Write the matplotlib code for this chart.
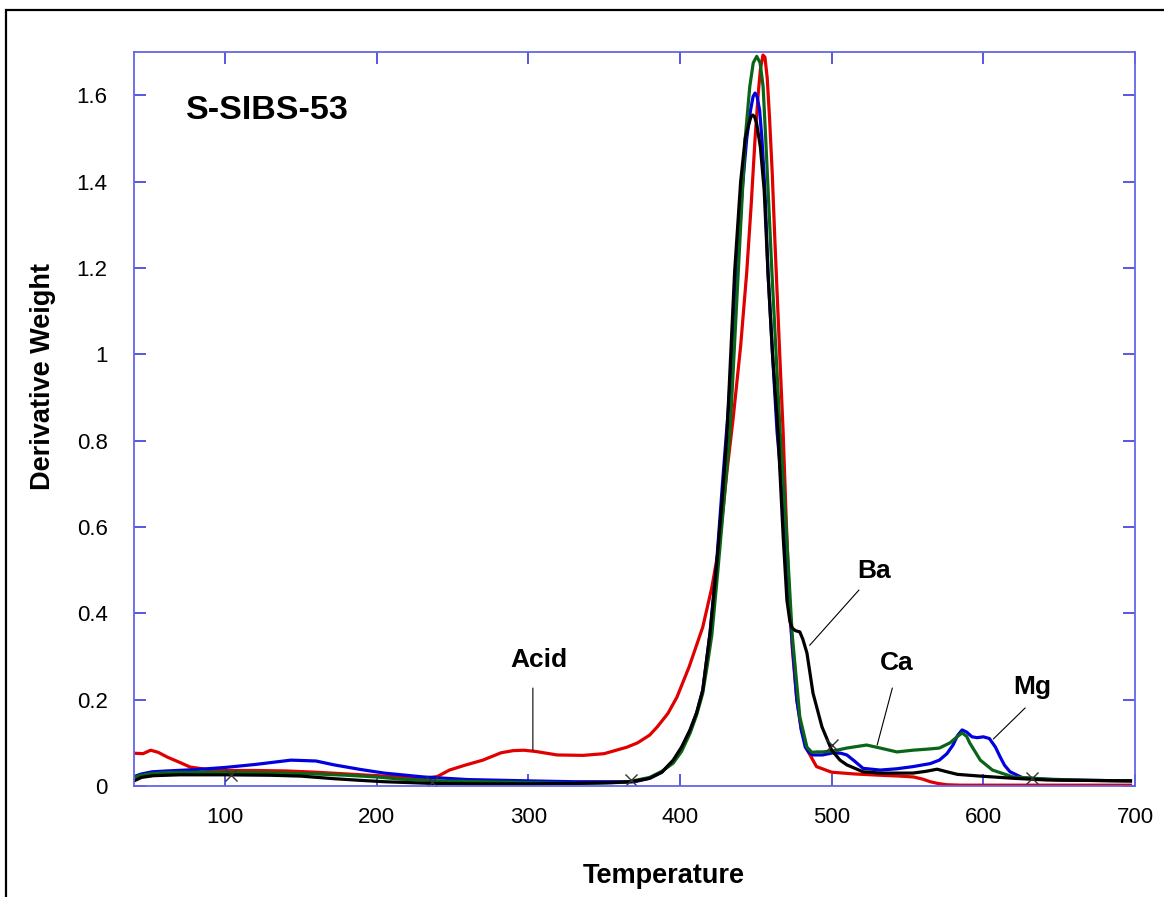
"""
Derivative weight (DTG) curves for S-SIBS-53 and its salts.
"""

import matplotlib
matplotlib.use("Agg")
import matplotlib.pyplot as plt
from matplotlib.patches import Rectangle

plt.rcParams['font.family'] = ['Liberation Sans', 'DejaVu Sans']

# Acid form (red)
acid_t = [40, 46, 51, 56, 62, 70, 77, 85, 91, 100, 120, 140, 160, 180, 200, 220, 232, 240,
          248, 258, 270, 282, 290, 297, 305, 319, 336, 350, 358, 365, 372, 380, 385, 392, 398,
          406, 415, 421, 426, 431, 435, 440, 444, 447, 449.5, 451.5, 453, 454.7, 456, 457.5,
          459, 460.8, 462.6, 466, 468, 470, 472, 474, 477, 480, 484, 490, 500, 515, 532, 545,
          554, 560, 565, 570, 576, 585, 600, 650, 697]
acid_w = [0.076, 0.075, 0.083, 0.078, 0.067, 0.055, 0.044, 0.04, 0.037, 0.036, 0.036, 0.035,
          0.032, 0.028, 0.024, 0.02, 0.018, 0.022, 0.037, 0.048, 0.06, 0.077, 0.082, 0.083, 0.08,
          0.072, 0.071, 0.075, 0.083, 0.09, 0.1, 0.118, 0.137, 0.168, 0.206, 0.276, 0.368, 0.46,
          0.56, 0.73, 0.85, 1.02, 1.19, 1.35, 1.5, 1.6, 1.66, 1.693, 1.688, 1.64, 1.55, 1.42,
          1.26, 0.98, 0.82, 0.62, 0.44, 0.32, 0.2, 0.13, 0.083, 0.045, 0.032, 0.028, 0.025,
          0.023, 0.021, 0.016, 0.01, 0.006, 0.003, 0.002, 0.002, 0.002, 0.002]

# Mg salt (blue)
mg_t = [40, 45, 52, 62, 80, 100, 120, 143.5, 160, 172, 190, 205, 231, 260, 300, 330, 370, 380,
        388, 395.5, 401, 406.6, 411, 415, 419.8, 424, 428, 432, 437, 441, 444, 446.5, 448.2,
        449.5, 450.8, 452.5, 454, 456, 458, 461, 464, 468, 472, 477, 480, 482.6, 485, 487.7, 494,
        501, 506, 510, 515, 520.7, 532, 543, 553.6, 565, 571, 576, 580, 583, 586, 589, 592.5,
        596, 600, 604, 608, 611, 614, 617.6, 626, 650, 697]
mg_w = [0.022, 0.028, 0.033, 0.035, 0.038, 0.043, 0.05, 0.06, 0.058, 0.049, 0.038, 0.03, 0.021,
        0.015, 0.012, 0.01, 0.01, 0.018, 0.032, 0.058, 0.088, 0.128, 0.17, 0.222, 0.354, 0.51,
        0.7, 0.88, 1.15, 1.38, 1.5, 1.565, 1.597, 1.605, 1.597, 1.565, 1.5, 1.38, 1.19, 1.0,
        0.82, 0.66, 0.42, 0.2, 0.13, 0.09, 0.078, 0.072, 0.072, 0.077, 0.076, 0.072, 0.058,
        0.041, 0.037, 0.04, 0.045, 0.052, 0.06, 0.075, 0.095, 0.117, 0.13, 0.125, 0.114, 0.112,
        0.114, 0.11, 0.09, 0.068, 0.048, 0.033, 0.019, 0.014, 0.012]

# Ca salt (green)
ca_t = [40, 45, 52, 62, 80, 100, 130, 160, 180, 200, 216, 240, 270, 300, 330, 350, 365, 380,
        388, 395.5, 401, 406.6, 411, 415, 418, 421, 425, 429, 433, 438.4, 443, 446, 448.3,
        450.6, 452.8, 454.8, 456.5, 460.6, 466, 469, 474, 479, 483.7, 487, 490, 494, 502, 510,
        523, 532, 543, 553.6, 565, 571, 578, 583, 586, 589, 591, 598, 606, 619.6, 642, 670, 697]
ca_w = [0.02, 0.025, 0.029, 0.031, 0.032, 0.032, 0.031, 0.028, 0.025, 0.021, 0.016, 0.012, 0.01,
        0.008, 0.006, 0.007, 0.009, 0.02, 0.034, 0.053, 0.08, 0.122, 0.165, 0.215, 0.28, 0.35,
        0.5, 0.66, 0.82, 1.19, 1.5, 1.62, 1.675, 1.69, 1.675, 1.62, 1.5, 1.19, 0.82, 0.66, 0.35,
        0.16, 0.09, 0.078, 0.079, 0.079, 0.082, 0.088, 0.095, 0.088, 0.079, 0.083, 0.086, 0.088,
        0.1, 0.115, 0.123, 0.115, 0.1, 0.06, 0.037, 0.021, 0.016, 0.013, 0.012]

# Ba salt (black)
ba_t = [40, 45, 53, 70, 100, 130, 150, 172, 190, 205, 237, 270, 300, 330, 355, 368, 380, 388,
        395.5, 401, 406.6, 411, 415, 419.8, 424, 427.7, 431, 436, 440, 443, 445.5, 446.8, 448,
        449.2, 450.5, 453, 455.5, 458, 461, 464.6, 466, 468, 470.5, 472.5, 474, 476, 479, 481,
        483.7, 487.7, 493.6, 500, 505.5, 510, 520.7, 532, 543, 553.6, 562, 569.5, 576, 583, 598,
        619.6, 642, 670, 697]
ba_w = [0.012, 0.02, 0.024, 0.026, 0.026, 0.025, 0.023, 0.017, 0.013, 0.01, 0.006, 0.005, 0.005,
        0.006, 0.008, 0.01, 0.018, 0.032, 0.06, 0.09, 0.13, 0.17, 0.222, 0.354, 0.507, 0.66,
        0.818, 1.19, 1.4, 1.5, 1.535, 1.55, 1.554, 1.55, 1.535, 1.48, 1.38, 1.19, 1.0, 0.82,
        0.72, 0.58, 0.43, 0.38, 0.366, 0.36, 0.357, 0.34, 0.308, 0.215, 0.137, 0.083, 0.06,
        0.049, 0.033, 0.03, 0.03, 0.03, 0.034, 0.039, 0.033, 0.027, 0.023, 0.018, 0.014, 0.013,
        0.012]

# x marks sitting on the Ba curve
mark_t = [104, 236.5, 368, 500, 632]
mark_w = [0.025, 0.01, 0.014, 0.095, 0.019]

x_ticks = [100, 200, 300, 400, 500, 600, 700]
y_ticks = [0, 0.2, 0.4, 0.6, 0.8, 1.0, 1.2, 1.4, 1.6]
y_tick_labels = ["0", "0.2", "0.4", "0.6", "0.8", "1", "1.2", "1.4", "1.6"]

# label text, text position, leader start, leader end
labels = [
    ("Acid", (307, 0.292), (303, 0.227), (303, 0.083)),
    ("Ba", (528, 0.498), (518, 0.454), (485.5, 0.326)),
    ("Ca", (543, 0.285), (540, 0.227), (530, 0.095)),
    ("Mg", (632, 0.229), (627.6, 0.181), (606.6, 0.109)),
]

fig = plt.figure(figsize=(11.64, 8.97), dpi=100)
ax = fig.add_axes([0.1151, 0.1237, 0.8600, 0.8183])

# outer frame (only left and top edges fall inside the picture)
fig.patches.append(Rectangle((6 / 1164, -0.5), 1.5, 1.5 - 10 / 897,
                             transform=fig.transFigure, fill=False,
                             edgecolor='black', linewidth=1.6, clip_on=False))

lw = 2.3
ax.plot(acid_t, acid_w, color='#e00000', lw=lw)
ax.plot(mg_t, mg_w, color='#0000e0', lw=lw)
ax.plot(ca_t, ca_w, color='#0b6518', lw=lw)
ax.plot(ba_t, ba_w, color='black', lw=lw)
ax.plot(mark_t, mark_w, ls='none', marker='x', ms=9, mew=1.0, color='#333333')

for text, pos, start, end in labels:
    ax.annotate('', xy=end, xytext=start,
                arrowprops=dict(arrowstyle='-', color='black', lw=0.8,
                                shrinkA=0, shrinkB=0))
    ax.text(pos[0], pos[1], text, ha='center', va='center',
            fontsize=19, fontweight='bold')

ax.text(0.052, 0.921, "S-SIBS-53", transform=ax.transAxes, ha='left', va='center',
        fontsize=24.5, fontweight='bold')

ax.set_xlim(40, 700)
ax.set_ylim(0, 1.7)
ax.set_xticks(x_ticks)
ax.set_yticks(y_ticks)
ax.set_yticklabels(y_tick_labels)

for side in ax.spines.values():
    side.set_color('#6464ea')
    side.set_linewidth(1.3)
ax.tick_params(axis='both', direction='in', length=8.5, width=1.1, color='#2a2ad8',
               top=True, right=True, labelsize=16)
ax.tick_params(axis='x', pad=15)
ax.tick_params(axis='y', pad=19)

fig.text(664 / 1164, 1 - 876 / 897, "Temperature", ha='center', va='center',
         fontsize=19.5, fontweight='bold')
fig.text(43 / 1164, 1 - 376 / 897, "Derivative Weight", ha='center', va='center',
         rotation=90, fontsize=19.5, fontweight='bold')

plt.savefig("out.png", dpi=100)
